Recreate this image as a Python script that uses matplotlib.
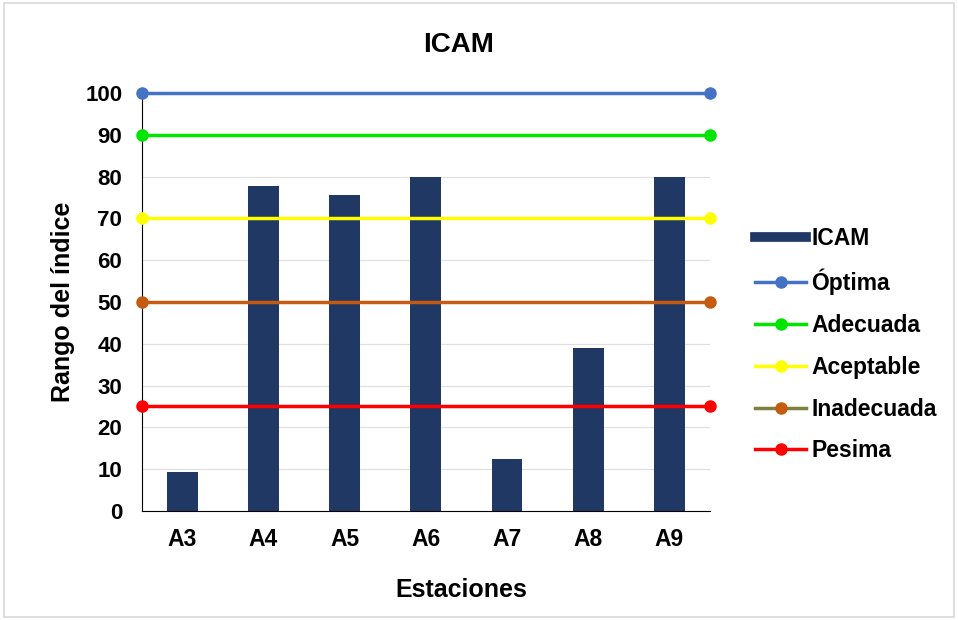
import matplotlib
matplotlib.use("Agg")
import matplotlib.pyplot as plt
from matplotlib.lines import Line2D
from matplotlib.patches import Rectangle

plt.rcParams['font.family'] = ['Liberation Sans', 'DejaVu Sans']
plt.rcParams['font.weight'] = 'bold'

stations = ["A3", "A4", "A5", "A6", "A7", "A8", "A9"]
icam = [9.3, 77.8, 75.6, 79.9, 12.4, 39.0, 80.0]

threshold_names = ["Óptima", "Adecuada", "Aceptable", "Inadecuada", "Pesima"]
threshold_values = [100, 90, 70, 50, 25]
threshold_colors = ["#4472C4", "#00E600", "#FFFF00", "#C55A11", "#FF0000"]
threshold_marker_colors = ["#4472C4", "#00E600", "#FFFF00", "#C55A11", "#FF0000"]
legend_line_colors = ["#4472C4", "#00E600", "#FFFF00", "#7F7F3F", "#FF0000"]

yticks = list(range(0, 101, 10))

fig = plt.figure(figsize=(9.58, 6.2), dpi=100)
fig.patches.append(Rectangle((0.004, 0.005), 0.992, 0.99, transform=fig.transFigure,
                             fill=False, edgecolor="#D9D9D9", linewidth=1.2))
ax = fig.add_axes([0.148, 0.176, 0.593, 0.674])

x = list(range(len(stations)))
ax.bar(x, icam, width=0.38, color="#1F3864", zorder=2)

xmin, xmax = -0.5, len(stations) - 0.5
for name, val, c, mc in zip(threshold_names, threshold_values, threshold_colors, threshold_marker_colors):
    ax.plot([xmin, xmax], [val, val], color=c, linewidth=2.5, marker="o", markersize=8,
            markerfacecolor=mc, markeredgecolor=mc, clip_on=False, zorder=3)

ax.set_xlim(xmin, xmax)
ax.set_ylim(0, 100)
ax.set_yticks(yticks)
ax.set_xticks(x)
ax.set_xticklabels(stations)
ax.tick_params(axis='x', length=0, labelsize=16.5, pad=12)
ax.tick_params(axis='y', length=0, labelsize=16, pad=14)
for lab in ax.get_xticklabels() + ax.get_yticklabels():
    lab.set_fontweight('bold')
ax.grid(axis='y', color="#E0E0E0", linewidth=0.9, zorder=0)
ax.set_axisbelow(True)
for s in ["top", "right"]:
    ax.spines[s].set_visible(False)
ax.spines["left"].set_color("black")
ax.spines["bottom"].set_color("black")

fig.text(0.479, 0.927, "ICAM", fontsize=20, fontweight='bold', ha='center', va='center')
fig.text(0.482, 0.048, "Estaciones", fontsize=18, fontweight='bold', ha='center', va='center')
ax.set_ylabel("Rango del índice", fontsize=18, fontweight='bold')
ax.yaxis.set_label_coords(-0.118, 0.5)

handles = [Line2D([0], [0], color="#1F3864", linewidth=7)]
for lc, mc in zip(legend_line_colors, threshold_marker_colors):
    handles.append(Line2D([0], [0], color=lc, linewidth=2.5, marker="o", markersize=8,
                          markerfacecolor=mc, markeredgecolor=mc))
labels = ["ICAM"] + threshold_names
fig.legend(handles, labels, loc="center left", bbox_to_anchor=(0.767, 0.444), frameon=False,
           prop={'weight': 'bold', 'size': 16.5}, handlelength=2.2, handletextpad=0.25,
           labelspacing=0.82)

fig.savefig("out.png", dpi=100)
